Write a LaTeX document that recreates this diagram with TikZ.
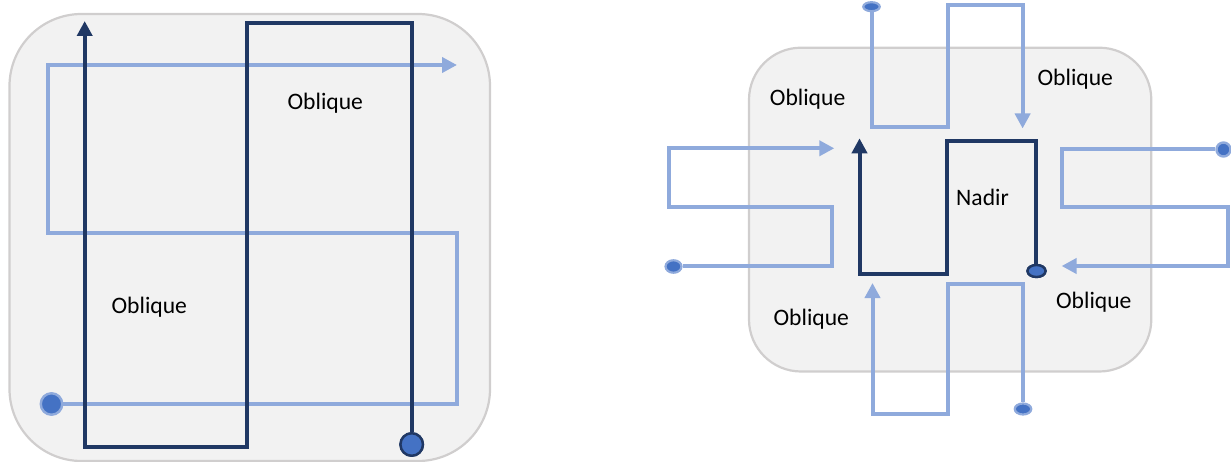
\documentclass[tikz,border=0pt]{standalone}
\usepackage{fontspec}
\setmainfont{Carlito}
\usetikzlibrary{arrows.meta,shapes.geometric}
\definecolor{navy}{HTML}{203864}
\definecolor{lblue}{HTML}{8FAADC}
\definecolor{mblue}{HTML}{4472C4}
\definecolor{boxfill}{HTML}{F2F2F2}
\definecolor{boxline}{HTML}{D0CECE}
\begin{document}
\begin{tikzpicture}[x=1pt,y=-1pt,
  panel/.style={draw=boxline,fill=boxfill,line width=2.2pt,rounded corners=#1},
  darkln/.style={draw=navy,line width=4pt},
  lightln/.style={draw=lblue,line width=4pt},
  darktip/.style={-{Triangle[length=15pt,width=15pt]}},
  lighttip/.style={-{Triangle[length=15pt,width=15pt]}},
  darkdot/.style={circle,draw=navy,fill=mblue,line width=2.4pt,inner sep=0pt,minimum size=#1},
  lightdot/.style={circle,draw=lblue,fill=mblue,line width=2.4pt,inner sep=0pt,minimum size=#1},
  lightoval/.style={ellipse,draw=lblue,fill=mblue,line width=2.2pt,inner sep=0pt},
  darkoval/.style={ellipse,draw=navy,fill=mblue,line width=2.4pt,inner sep=0pt},
  lbl/.style={font=\fontsize{23.6}{28}\selectfont,anchor=base,inner sep=0pt}
]
\useasboundingbox (0,0) rectangle (1231,462);

% ---------------- left panel ----------------
\draw[panel=72] (9.5,14) rectangle (490,461);

\node[lightdot=21.5pt] (LA) at (51.5,404) {};
\coordinate (L1) at (457.3,404);
\coordinate (L2) at (457.3,233.3);
\coordinate (L3) at (47.7,233.3);
\coordinate (L4) at (47.7,65);
\coordinate (L5) at (457,65);
\draw[lightln,lighttip] (LA) -- (L1) -- (L2) -- (L3) -- (L4) -- (L5);

\node[darkdot=22.5pt] (DA) at (411.7,444.5) {};
\coordinate (D1) at (411.7,22.7);
\coordinate (D2) at (246.7,22.7);
\coordinate (D3) at (246.7,446.7);
\coordinate (D4) at (84.7,446.7);
\coordinate (D5) at (84.7,21);
\draw[darkln,darktip] (DA) -- (D1) -- (D2) -- (D3) -- (D4) -- (D5);
\node[darkdot=22.5pt] at (DA) {};

\node[lbl] (ob1) at (149.3,313) {Oblique};
\node[lbl] (ob2) at (325.3,110) {Oblique};

% ---------------- right panel ----------------
\draw[panel=52] (749,47.7) rectangle (1151.3,371.5);

% top
\node[lightoval,minimum width=16.5pt,minimum height=9pt] (TA) at (871.5,6.7) {};
\coordinate (T1) at (871.5,127);
\coordinate (T2) at (947.7,127);
\coordinate (T3) at (947.7,5);
\coordinate (T4) at (1022.6,5);
\coordinate (T5) at (1022.6,128.5);
\draw[lightln,lighttip] (TA) -- (T1) -- (T2) -- (T3) -- (T4) -- (T5);

% left
\node[lightoval,minimum width=16pt,minimum height=12.5pt] (WA) at (673.5,266.5) {};
\coordinate (W1) at (832.4,266.5);
\coordinate (W2) at (832.4,206.7);
\coordinate (W3) at (668.5,206.7);
\coordinate (W4) at (668.5,148.3);
\coordinate (W5) at (834.3,148.3);
\draw[lightln,lighttip] (WA) -- (W1) -- (W2) -- (W3) -- (W4) -- (W5);

% right
\node[lightdot=14pt] (EA) at (1223.5,149.5) {};
\coordinate (E1) at (1062.3,149.5);
\coordinate (E2) at (1062.3,207.3);
\coordinate (E3) at (1228.4,207.3);
\coordinate (E4) at (1228.4,266);
\coordinate (E5) at (1061.6,266);
\draw[lightln,lighttip] (EA) -- (E1) -- (E2) -- (E3) -- (E4) -- (E5);

% bottom
\node[lightoval,minimum width=16.5pt,minimum height=11pt] (SA) at (1023,409) {};
\coordinate (S1) at (1023,284.3);
\coordinate (S2) at (947.7,284.3);
\coordinate (S3) at (947.7,414);
\coordinate (S4) at (872.5,414);
\coordinate (S5) at (872.5,283);
\draw[lightln,lighttip] (SA) -- (S1) -- (S2) -- (S3) -- (S4) -- (S5);

% dark centre
\node[darkoval,minimum width=18pt,minimum height=12pt] (NA) at (1036.5,271) {};
\coordinate (N1) at (1036,141);
\coordinate (N2) at (947,141);
\coordinate (N3) at (947,274.3);
\coordinate (N4) at (859.5,274.3);
\coordinate (N5) at (859.5,138.3);
\draw[darkln,darktip] (NA.north -| N1) -- (N1) -- (N2) -- (N3) -- (N4) -- (N5);
\node[darkoval,minimum width=18pt,minimum height=12pt] at (NA) {};

\node[lbl] (nad) at (982.5,206) {Nadir};
\node[lbl] (ob3) at (807.6,106) {Oblique};
\node[lbl] (ob4) at (1075.3,85.7) {Oblique};
\node[lbl] (ob5) at (811.3,325) {Oblique};
\node[lbl] (ob6) at (1093.8,308.3) {Oblique};
\end{tikzpicture}
\end{document}
